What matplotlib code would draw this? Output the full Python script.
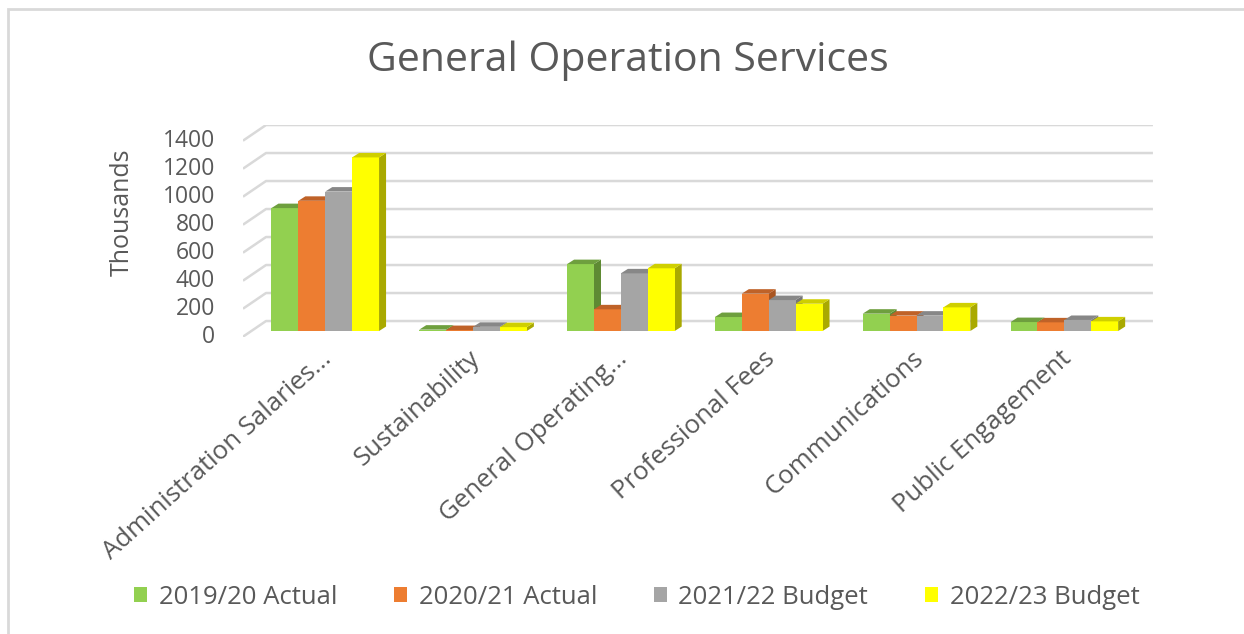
import matplotlib.pyplot as plt
from matplotlib.patches import Polygon, Rectangle, Patch
from matplotlib.transforms import ScaledTranslation
import numpy as np

categories = ['Administration Salaries...', 'Sustainability', 'General Operating...',
              'Professional Fees', 'Communications', 'Public Engagement']
series_names = ['2019/20 Actual', '2020/21 Actual', '2021/22 Budget', '2022/23 Budget']

actual_1920 = [878, 10, 478, 100, 124, 64]
actual_2021 = [930, 7, 155, 267, 110, 62]
budget_2122 = [996, 30, 412, 221, 110, 79]
budget_2223 = [1240, 28, 448, 195, 169, 69]

yticks = [0, 200, 400, 600, 800, 1000, 1200, 1400]

series_values = [actual_1920, actual_2021, budget_2122, budget_2223]

# front, top and side face colours for each series
face_colors = ['#92D050', '#ED7D31', '#A5A5A5', '#FFFF00']
top_colors = ['#6E9F3E', '#BF6228', '#878787', '#CFCF00']
side_colors = ['#5E8A33', '#A85522', '#767676', '#A9A900']

text_color = '#595959'
grid_color = '#D9D9D9'
font = 'Open Sans'

# fake 3d: depth of the floor and of the bars, in data units
DX, DY = 0.156, 112
BDX, BDY = 0.0475, 32
d0 = 0.363          # where the bar fronts sit in the floor depth
bar_w = 0.182
ymax = 1400

fig = plt.figure(figsize=(12.44, 6.34), dpi=100)
fig.patch.set_facecolor('white')

ax = fig.add_axes([0.1953, 0.4689, 0.7315, 0.3339])
ax.set_xlim(-0.5, len(categories) - 0.5 + DX)
ax.set_ylim(0, ymax + DY)
ax.axis('off')

# gridlines on the side wall and the back wall
x_left = -0.5
x_right = len(categories) - 0.5 + DX
for v in yticks:
    ax.plot([x_left, x_left + DX, x_right], [v, v + DY, v + DY],
            color=grid_color, lw=1.8, zorder=1, solid_capstyle='butt')

# bars
group_w = bar_w * len(series_values)
z = 2
for i in range(len(categories)):
    for j, vals in enumerate(series_values):
        v = vals[i]
        x0 = i - group_w / 2 + j * bar_w + d0 * DX
        y0 = d0 * DY
        front = Rectangle((x0, y0), bar_w, v, facecolor=face_colors[j],
                          edgecolor='none', zorder=z)
        top = Polygon([(x0, y0 + v), (x0 + bar_w, y0 + v),
                       (x0 + bar_w + BDX, y0 + v + BDY), (x0 + BDX, y0 + v + BDY)],
                      closed=True, facecolor=top_colors[j], edgecolor='none', zorder=z)
        side = Polygon([(x0 + bar_w, y0), (x0 + bar_w + BDX, y0 + BDY),
                        (x0 + bar_w + BDX, y0 + v + BDY), (x0 + bar_w, y0 + v)],
                       closed=True, facecolor=side_colors[j], edgecolor='none', zorder=z)
        ax.add_patch(side)
        ax.add_patch(front)
        ax.add_patch(top)
        z += 1

# value axis labels on the front edge of the side wall
tick_shift = ax.transData + ScaledTranslation(-0.28, 0, fig.dpi_scale_trans)
for v in yticks:
    ax.text(x_left, v, str(v), ha='right', va='center', fontsize=16.5,
            color=text_color, family=font, transform=tick_shift)

ax.text(-0.1325, 0.589, 'Thousands', rotation=90, ha='center', va='center',
        fontsize=18, color=text_color, family=font, transform=ax.transAxes)

# category labels, rotated
cat_shift = ax.transData + ScaledTranslation(-0.05, -0.15, fig.dpi_scale_trans)
for i, name in enumerate(categories):
    ax.text(i + d0 * DX, d0 * DY, name, rotation=42, rotation_mode='anchor',
            ha='right', va='top', fontsize=18.5, color=text_color, family=font,
            transform=cat_shift)

fig.text(0.5044, 0.904, 'General Operation Services', ha='center', va='center',
         fontsize=29.5, color=text_color, family=font)

handles = [Patch(facecolor=c, edgecolor='none') for c in face_colors]
fig.legend(handles, series_names, loc='center', bbox_to_anchor=(0.5117, 0.058),
           ncol=4, frameon=False, handlelength=0.52, handleheight=0.52,
           handletextpad=0.45, columnspacing=2.2,
           prop={'family': font, 'size': 18.5}, labelcolor=text_color)

# chart area border
fig.add_artist(Rectangle((8 / 1244, -0.02), 1.0, 1.0 - 9 / 634 + 0.02,
                         transform=fig.transFigure, fill=False,
                         edgecolor=grid_color, lw=2))

fig.savefig('out.png', dpi=100, facecolor='white')
